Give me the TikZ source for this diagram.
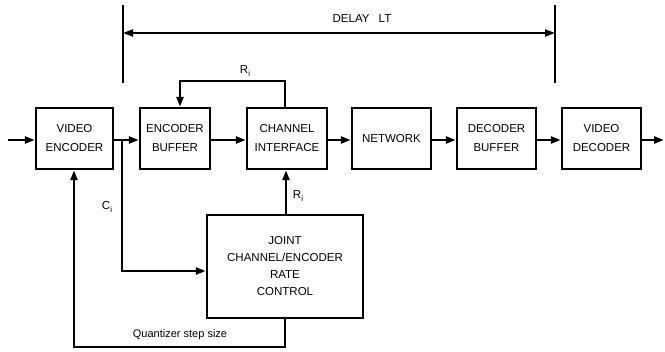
\documentclass[tikz,border=0pt]{standalone}
\usepackage{fontspec}
\setmainfont{Liberation Sans}
\usetikzlibrary{arrows.meta,calc}
\newcommand{\subi}[1]{#1\raisebox{-2.5pt}{\fontsize{8}{8}\selectfont i}}
\begin{document}
\begin{tikzpicture}[x=1pt,y=-1pt,
  blk/.style={draw,line width=2.4pt,minimum height=61pt,align=center,inner sep=0pt,
    font=\fontsize{11.5}{19}\selectfont},
  conn/.style={line width=2.4pt,-{Triangle[length=10pt,width=7pt]}},
  line/.style={line width=2.2pt},
  lbl/.style={font=\fontsize{11.5}{13}\selectfont,inner sep=0pt}]
\useasboundingbox (0,0) rectangle (665,352);
% main row
\node[blk,minimum width=77pt] (VE) at (74.5,138.5) {VIDEO\\ENCODER};
\node[blk,minimum width=70pt] (EB) at (175,138.5) {ENCODER\\BUFFER};
\node[blk,minimum width=80pt] (CI) at (287,138.5) {CHANNEL\\INTERFACE};
\node[blk,minimum width=79pt] (NET) at (391.5,138.5) {NETWORK};
\node[blk,minimum width=79pt] (DB) at (496.5,138.5) {DECODER\\BUFFER};
\node[blk,minimum width=79pt] (VD) at (601.5,138.5) {VIDEO\\DECODER};
\node[blk,minimum width=156pt,minimum height=103pt,font=\fontsize{11.5}{17}\selectfont] (JC) at (285,266.5) {JOINT\\CHANNEL/ENCODER\\RATE\\CONTROL};
% coordinates
\coordinate (in) at (8,140);
\coordinate (out) at (664,140);
\coordinate (br) at (122,140);
\coordinate (cdown) at (122,271);
\coordinate (fbR) at (285,81);
\coordinate (fbL) at (180,81);
\coordinate (qb) at (285,347);
\coordinate (ql) at (74,347);
\coordinate (dl1) at (123,5);
\coordinate (dl2) at (123,83);
\coordinate (dr1) at (555,5);
\coordinate (dr2) at (555,83);
\coordinate (da) at (123,33);
\coordinate (db) at (555,33);
% connectors
\draw[conn] (in) -- (in -| VE.west);
\draw[conn] (VE.east |- br) -- (EB.west |- br);
\draw[conn] (EB.east |- br) -- (CI.west |- br);
\draw[conn] (CI.east |- br) -- (NET.west |- br);
\draw[conn] (NET.east |- br) -- (DB.west |- br);
\draw[conn] (DB.east |- br) -- (VD.west |- br);
\draw[conn] (VD.east |- br) -- (out);
\draw[conn] (br) -- (cdown) -- (cdown -| JC.west);
\draw[conn] (JC.north -| 286,0) -- (CI.south -| 286,0);
\draw[conn] (CI.north -| fbR) -- (fbR) -- (fbL) -- (EB.north -| fbL);
\draw[conn] (JC.south -| qb) -- (qb) -- (ql) -- (VE.south -| ql);
% delay
\draw[line] (dl1) -- (dl2);
\draw[line] (dr1) -- (dr2);
\draw[line width=2pt,{Triangle[length=10pt,width=7pt]}-{Triangle[length=10pt,width=7pt]}] (da) -- (db);
% labels
\node[lbl] (tdelay) at (362,19) {DELAY\hspace{0.8em}LT};
\node[lbl] (tri1) at (245,71) {\subi{R}};
\node[lbl] (tri2) at (298,196) {\subi{R}};
\node[lbl] (tci) at (107,207) {\subi{C}};
\node[lbl,font=\fontsize{11}{13}\selectfont] (tq) at (180,335) {Quantizer step size};
\end{tikzpicture}
\end{document}
